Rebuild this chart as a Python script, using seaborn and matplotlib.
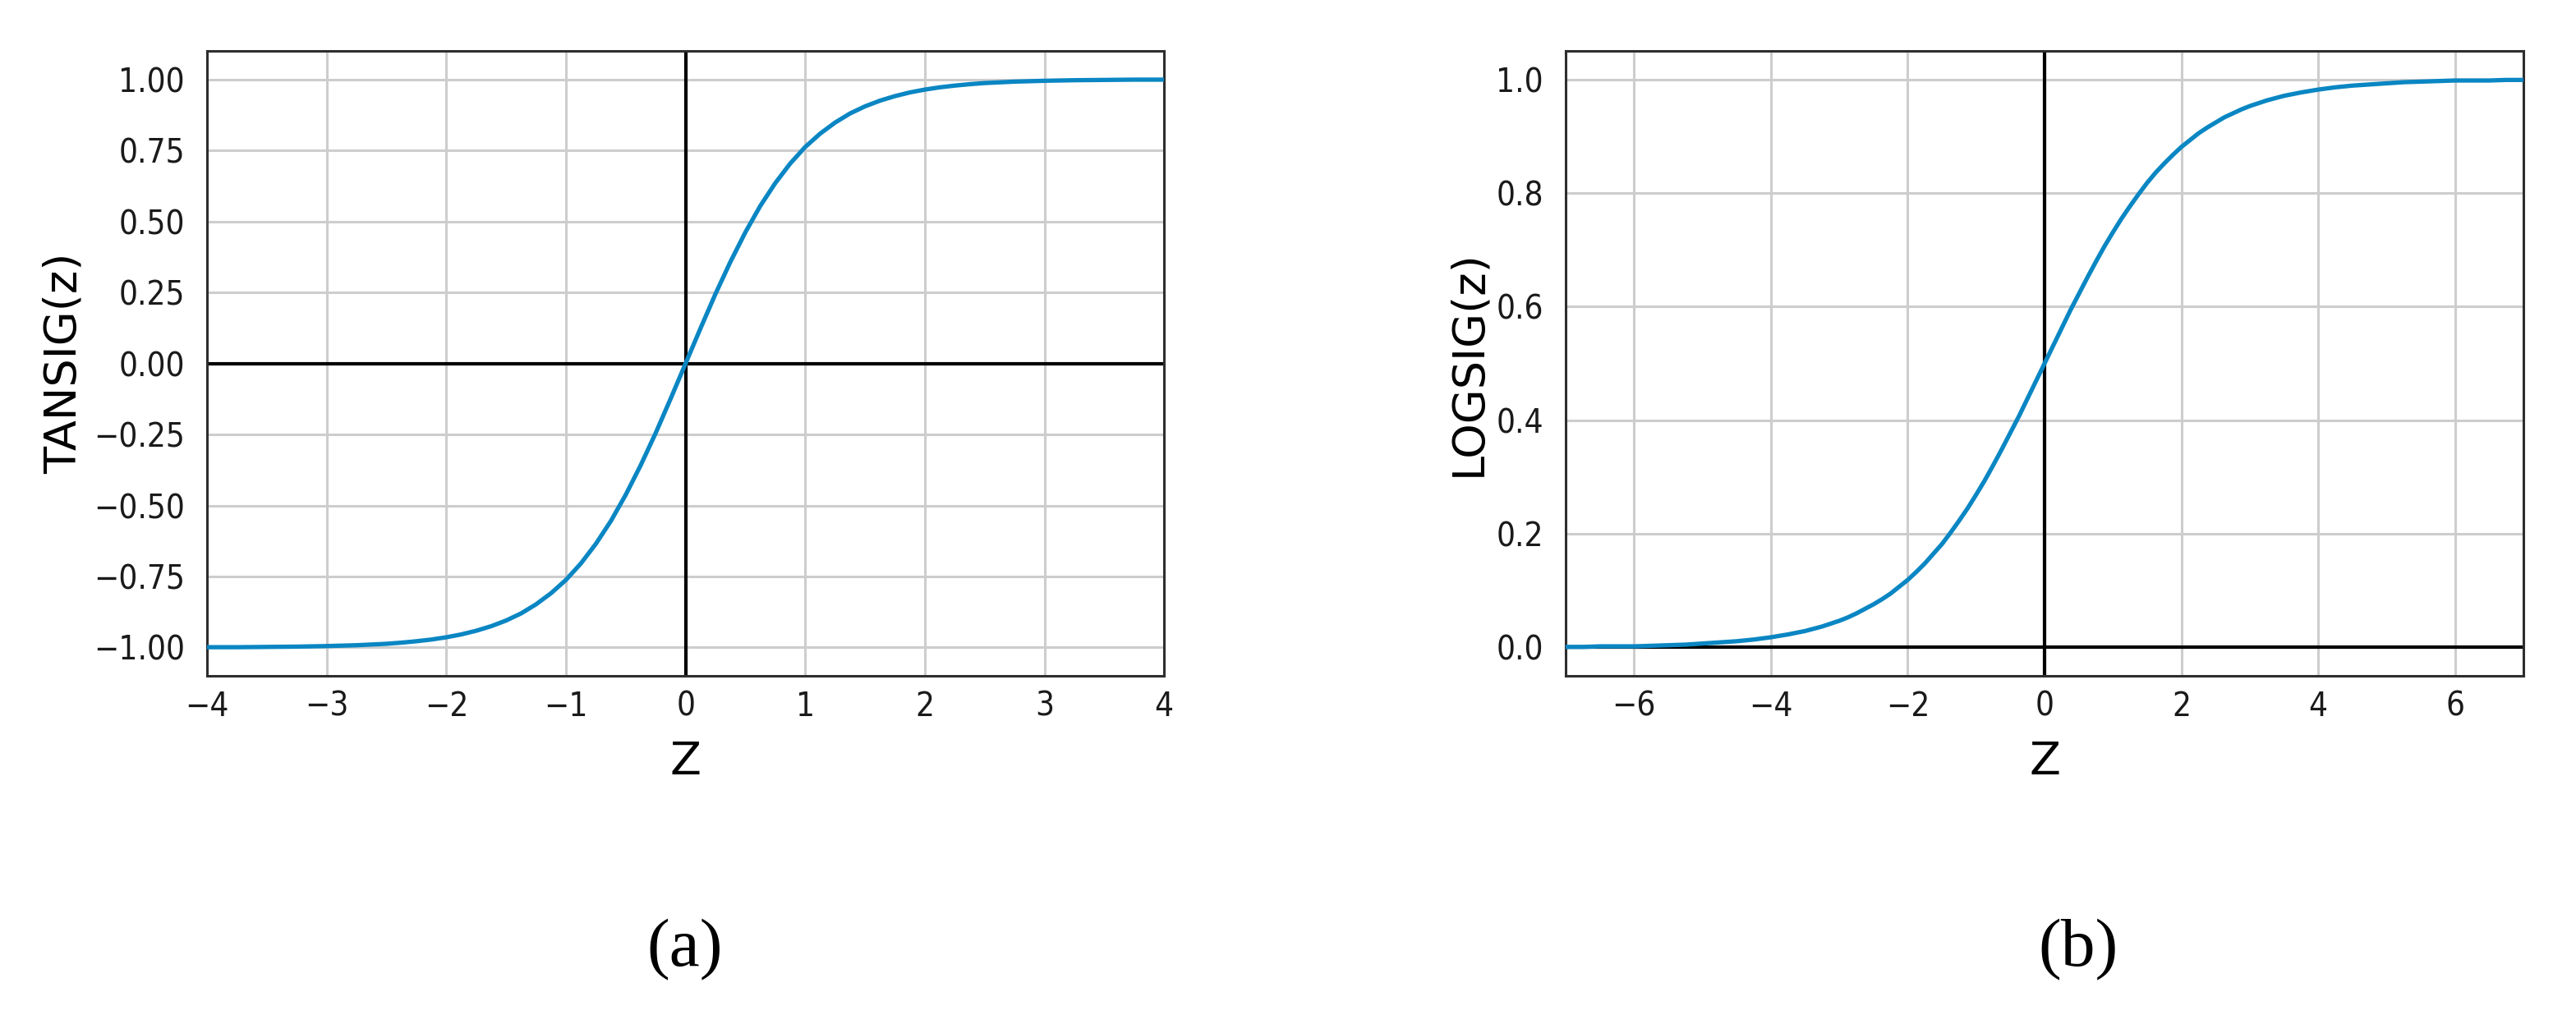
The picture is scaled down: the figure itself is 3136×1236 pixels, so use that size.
# ============================================================================
# TANSIG / LOGSIG ACTIVATION FUNCTIONS
# ============================================================================

import numpy as np
import matplotlib
matplotlib.use("Agg")
import matplotlib.pyplot as plt
import seaborn as sns

# ============================================================================
# DATA
# ============================================================================

tansig_z = [
    -4.00, -3.75, -3.50, -3.25, -3.00, -2.75, -2.50, -2.375, -2.25, -2.125,
    -2.00, -1.875, -1.75, -1.625, -1.50, -1.375, -1.25, -1.125,
    -1.00, -0.875, -0.75, -0.625, -0.50, -0.375, -0.25, -0.125, 0.00,
    0.125, 0.25, 0.375, 0.50, 0.625, 0.75, 0.875, 1.00,
    1.125, 1.25, 1.375, 1.50, 1.625, 1.75, 1.875, 2.00,
    2.125, 2.25, 2.375, 2.50, 2.75, 3.00, 3.25, 3.50, 3.75, 4.00
]
tansig_y = [
    -0.999, -0.999, -0.998, -0.997, -0.995, -0.992, -0.987, -0.983, -0.978, -0.972,
    -0.964, -0.954, -0.941, -0.925, -0.905, -0.880, -0.848, -0.809,
    -0.762, -0.704, -0.635, -0.555, -0.462, -0.358, -0.245, -0.124, 0.000,
    0.124, 0.245, 0.358, 0.462, 0.555, 0.635, 0.704, 0.762,
    0.809, 0.848, 0.880, 0.905, 0.925, 0.941, 0.954, 0.964,
    0.972, 0.978, 0.983, 0.987, 0.992, 0.995, 0.997, 0.998, 0.999, 0.999
]

logsig_z = [
    -7.00, -6.75, -6.50, -6.25, -6.00, -5.75, -5.50, -5.25, -5.00,
    -4.75, -4.50, -4.25, -4.00, -3.75, -3.50, -3.25, -3.00,
    -2.875, -2.75, -2.625, -2.50, -2.375, -2.25, -2.125, -2.00,
    -1.875, -1.75, -1.625, -1.50, -1.375, -1.25, -1.125, -1.00,
    -0.875, -0.75, -0.625, -0.50, -0.375, -0.25, -0.125, 0.00,
    0.125, 0.25, 0.375, 0.50, 0.625, 0.75, 0.875, 1.00,
    1.125, 1.25, 1.375, 1.50, 1.625, 1.75, 1.875, 2.00,
    2.125, 2.25, 2.375, 2.50, 2.625, 2.75, 2.875, 3.00,
    3.25, 3.50, 3.75, 4.00, 4.25, 4.50, 4.75, 5.00,
    5.25, 5.50, 5.75, 6.00, 6.25, 6.50, 6.75, 7.00
]
logsig_y = [
    0.001, 0.001, 0.002, 0.002, 0.002, 0.003, 0.004, 0.005, 0.007,
    0.009, 0.011, 0.014, 0.018, 0.023, 0.029, 0.037, 0.047,
    0.053, 0.060, 0.068, 0.076, 0.085, 0.095, 0.107, 0.119,
    0.133, 0.148, 0.165, 0.182, 0.202, 0.223, 0.245, 0.269,
    0.294, 0.321, 0.349, 0.378, 0.407, 0.438, 0.469, 0.500,
    0.531, 0.562, 0.593, 0.622, 0.651, 0.679, 0.706, 0.731,
    0.755, 0.777, 0.798, 0.818, 0.836, 0.852, 0.867, 0.881,
    0.893, 0.905, 0.915, 0.924, 0.933, 0.940, 0.947, 0.953,
    0.963, 0.971, 0.977, 0.982, 0.986, 0.989, 0.991, 0.993,
    0.995, 0.996, 0.997, 0.998, 0.998, 0.998, 0.999, 0.999
]

tansig_xticks = [-4, -3, -2, -1, 0, 1, 2, 3, 4]
tansig_yticks = [-1.00, -0.75, -0.50, -0.25, 0.00, 0.25, 0.50, 0.75, 1.00]
logsig_xticks = [-6, -4, -2, 0, 2, 4, 6]
logsig_yticks = [0.0, 0.2, 0.4, 0.6, 0.8, 1.0]

panel_labels = ["(a)", "(b)"]
y_labels = ["TANSIG(z)", "LOGSIG(z)"]
x_label = "Z"

# ============================================================================
# STYLE
# ============================================================================

sns.set_style("white")
plt.rcParams["font.family"] = ["DejaVu Sans"]

curve_color = "#0a86c3"
spine_color = "#2e2e2e"

fig = plt.figure(figsize=(31.36, 12.36), dpi=100)

ax_a = fig.add_axes([0.0804, 0.3341, 0.3715, 0.6157])
ax_b = fig.add_axes([0.6078, 0.3341, 0.3718, 0.6157])


def style_axes(ax, xticks, yticks, fmt, xlim, ylim, ylabel, ylab_x):
    ax.axhline(0, color="black", linewidth=3.0, zorder=2)
    ax.axvline(0, color="black", linewidth=3.0, zorder=2)

    ax.set_xlim(*xlim)
    ax.set_ylim(*ylim)
    ax.set_xticks(xticks)
    ax.set_yticks(yticks)
    ax.set_yticklabels([fmt.format(v).replace("-", "\u2212") for v in yticks])
    ax.set_xticklabels([str(v).replace("-", "\u2212") for v in xticks])

    ax.grid(True, color="#cdcdcd", linewidth=2.2, zorder=0)
    ax.set_axisbelow(True)

    for sp in ax.spines.values():
        sp.set_color(spine_color)
        sp.set_linewidth(2.2)
        sp.set_visible(True)

    ax.tick_params(axis="both", direction="out", length=8.6, width=1.8,
                   color=spine_color, labelsize=29, labelcolor="#1a1a1a")
    ax.tick_params(axis="y", pad=11)
    ax.tick_params(axis="x", pad=4)
    for lab in ax.get_xticklabels() + ax.get_yticklabels():
        lab.set_fontstretch("condensed")

    ax.set_xlabel(x_label, fontsize=40, va="center", color="black")
    ax.xaxis.set_label_coords(0.5, -0.138)
    ax.set_ylabel(ylabel, fontsize=39, va="center", color="black")
    ax.yaxis.set_label_coords(ylab_x, 0.5)


# ============================================================================
# (a) TANSIG
# ============================================================================

sns.lineplot(x=tansig_z, y=tansig_y, ax=ax_a, color=curve_color,
             linewidth=3.8, zorder=3)
style_axes(ax_a, tansig_xticks, tansig_yticks, "{:.2f}",
           (-4, 4), (-1.1, 1.1), y_labels[0], -0.150)

# ============================================================================
# (b) LOGSIG
# ============================================================================

sns.lineplot(x=logsig_z, y=logsig_y, ax=ax_b, color=curve_color,
             linewidth=3.8, zorder=3)
style_axes(ax_b, logsig_xticks, logsig_yticks, "{:.1f}",
           (-7, 7), (-0.05, 1.05), y_labels[1], -0.102)

# ============================================================================
# PANEL LABELS
# ============================================================================

fig.text(0.2659, 0.064, panel_labels[0], ha="center", va="center",
         fontsize=60, family="Liberation Serif", color="black")
fig.text(0.8068, 0.064, panel_labels[1], ha="center", va="center",
         fontsize=60, family="Liberation Serif", color="black")

fig.savefig("out.png", dpi=100)
